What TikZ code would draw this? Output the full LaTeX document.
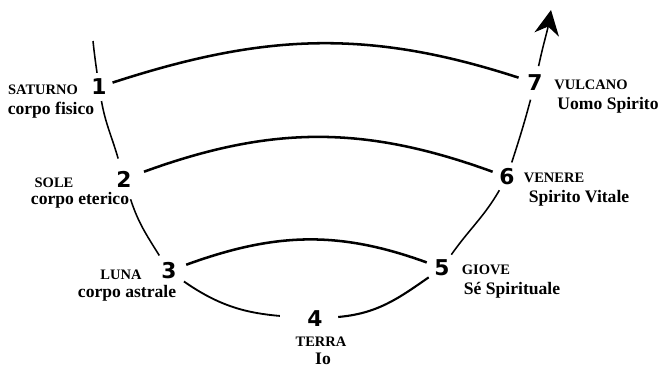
\documentclass[tikz,border=0pt]{standalone}
\usepackage{fontspec}
\setmainfont{Liberation Serif}
\newfontfamily\digitfont{DejaVu Sans}
\usepackage{tikz}
\usetikzlibrary{arrows.meta,calc}

\begin{document}
\begin{tikzpicture}[x=0.025cm, y=-0.025cm,
	num/.style={circle, inner sep=0pt, font=\digitfont\bfseries\fontsize{15.5}{18}\selectfont},
	planet/.style={font=\bfseries\fontsize{10.3}{12}\selectfont},
	body/.style={font=\bfseries\fontsize{12.5}{14}\selectfont},
	arc/.style={line width=1.8pt},
	spine/.style={line width=1.1pt}]
	\useasboundingbox (0,0) rectangle (661,368);
	% the seven stages
	\foreach \i/\x/\y/\s in {1/99/87/0.7, 2/124/179/1.05, 3/169/271/0.9, 4/315/319/1.15, 5/442/268/0.8, 6/507/177/0.75, 7/535/83/0.85}{
		\node[num, minimum size=\s cm] (n\i) at (\x,\y) {\i};}
	% planet names
	\foreach \x/\y/\lbl in {43/90/SATURNO, 54/183/SOLE, 121/275/LUNA, 321/342/TERRA, 486/270/GIOVE, 554/178/VENERE, 591/85/VULCANO}{
		\node[planet] at (\x,\y) {\lbl};}
	% bodies
	\foreach \x/\y/\lbl in {51/110/corpo fisico, 80/200/corpo eterico, 127/293/corpo astrale, 323/359/Io, 512/290/Sé Spirituale, 579/198/Spirito Vitale, 608/105/Uomo Spirito}{
		\node[body] at (\x,\y) {\lbl};}
	\coordinate (top) at (93,41);
	\coordinate (tip) at (551,10);
	% descending and ascending path
	\draw[spine] (top) to[out=-84,in=98] (n1) to[out=-80,in=106] (n2) to[out=-72,in=122] (n3);
	\draw[line width=1.3pt, shorten >=0.3cm] (n3) to[out=-35,in=175] (n4);
	\draw[line width=1.5pt] (n4) to[out=5,in=-145] (n5);
	\draw[spine] (n5) to[out=55,in=-120] (n6) to[out=72,in=-105] (n7);
	\draw[spine, -{Stealth[length=0.62cm, width=0.62cm, inset=0.2cm]}] (n7) to[out=78,in=-100] (tip);
	% correspondences
	\draw[arc] (n1) to[out=18,in=162] (n7);
	\draw[arc] (n2) to[out=20,in=160] (n6);
	\draw[arc] (n3) to[out=20,in=160] (n5);
\end{tikzpicture}
\end{document}
